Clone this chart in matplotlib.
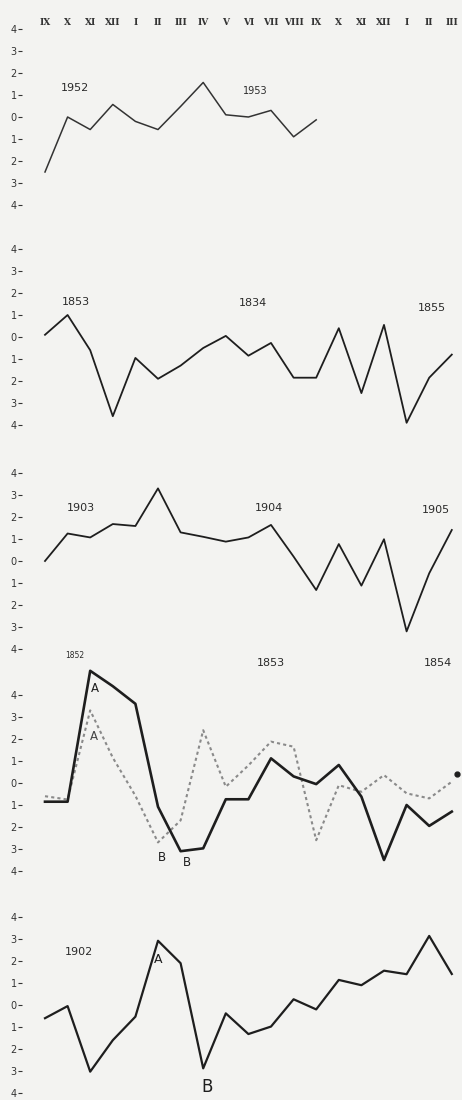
import matplotlib
matplotlib.use("Agg")
from matplotlib import pyplot as plt

# month labels along the top
months = ["IX", "X", "XI", "XII", "I", "II", "III", "IV", "V", "VI", "VII",
          "VIII", "IX", "X", "XI", "XII", "I", "II", "III"]
ytick_vals = [4, 3, 2, 1, 0, -1, -2, -3, -4]
ytick_text = ["4", "3", "2", "1", "0", "1", "2", "3", "4"]

# panel 1 : 1952-1953
p1 = [-2.5, 0.0, -0.57, 0.57, -0.2, -0.57, 0.48, 1.57, 0.1, 0.0, 0.3, -0.9, -0.13]
p1_years = ["1952", "1953"]

# panel 2 : 1853-1855
p2 = [0.1, 1.0, -0.6, -3.6, -0.95, -1.9, -1.3, -0.5, 0.05, -0.85, -0.27,
      -1.85, -1.85, 0.4, -2.55, 0.55, -3.9, -1.85, -0.8]
p2_years = ["1853", "1834", "1855"]

# panel 3 : 1903-1905
p3 = [0.0, 1.25, 1.07, 1.68, 1.59, 3.3, 1.3, 1.1, 0.88, 1.07, 1.64, 0.2,
      -1.32, 0.77, -1.12, 0.99, -3.2, -0.56, 1.41]
p3_years = ["1903", "1904", "1905"]

# panel 4 : 1852-1854, two curves
p4_solid = [-0.85, -0.85, 5.1, 4.4, 3.6, -1.08, -3.1, -2.97, -0.74, -0.74,
            1.12, 0.3, -0.05, 0.82, -0.62, -3.5, -1.0, -1.95, -1.3]
p4_dotted = [-0.6, -0.75, 3.3, 1.15, -0.58, -2.7, -1.7, 2.4, -0.17, 0.8,
             1.88, 1.65, -2.6, -0.1, -0.4, 0.36, -0.47, -0.7, 0.06]
p4_years = ["1852", "1853", "1854"]

# panel 5 : 1902
p5 = [-0.6, -0.05, -3.03, -1.6, -0.53, 2.92, 1.9, -2.88, -0.38, -1.32,
      -0.98, 0.26, -0.2, 1.14, 0.9, 1.56, 1.4, 3.14, 1.41]
p5_years = ["1902"]

W, H = 462, 1100
bg = "#f3f3f1"
ink = "#1e1e1e"
txt = "#2a2a2a"

fig = plt.figure(figsize=(W / 100, H / 100), dpi=100, facecolor=bg)

zero_px = [117, 337, 561, 783, 1005]
unit = 22.0
step = 22.6
left_px = 45 - step
width_px = 19.2 * step

axes = []
for z in zero_px:
    top = z - 4.5 * unit
    bottom = z + 4.5 * unit
    ax = fig.add_axes([left_px / W, 1 - bottom / H, width_px / W, (bottom - top) / H])
    ax.set_facecolor(bg)
    ax.set_xlim(-1, 18.2)
    ax.set_ylim(-4.5, 4.5)
    for s in ax.spines.values():
        s.set_visible(False)
    ax.set_xticks([])
    ax.set_yticks(ytick_vals)
    ax.set_yticklabels(ytick_text)
    ax.tick_params(axis="y", length=3, width=0.8, colors="#333333",
                   labelsize=7, pad=1)
    axes.append(ax)

ax1, ax2, ax3, ax4, ax5 = axes

for i, m in enumerate(months):
    ax1.text(i, 4.3, m, ha="center", va="center", fontsize=6.5,
             fontweight="bold", family="DejaVu Serif", color="#333333")

ax1.plot(range(len(p1)), p1, color="#333333", lw=1.1, clip_on=False)
ax1.text(1.33, 1.3, p1_years[0], ha="center", va="center", fontsize=8, color=txt)
ax1.text(9.3, 1.2, p1_years[1], ha="center", va="center", fontsize=7, color=txt)

ax2.plot(range(len(p2)), p2, color=ink, lw=1.3, clip_on=False)
for x, y, t in zip([1.37, 9.2, 17.1], [1.6, 1.55, 1.3], p2_years):
    ax2.text(x, y, t, ha="center", va="center", fontsize=8, color=txt)

ax3.plot(range(len(p3)), p3, color=ink, lw=1.3, clip_on=False)
for x, y, t in zip([1.6, 9.9, 17.3], [2.4, 2.4, 2.3], p3_years):
    ax3.text(x, y, t, ha="center", va="center", fontsize=8, color=txt)

ax4.plot(range(len(p4_dotted)), p4_dotted, color="#8a8a8a", lw=1.5,
         ls=(0, (1.5, 1.5)), clip_on=False)
ax4.plot(range(len(p4_solid)), p4_solid, color=ink, lw=1.9, clip_on=False)
ax4.plot([18.25], [0.4], marker="o", ms=3.5, color=ink, clip_on=False)
ax4.text(1.3, 5.8, p4_years[0], ha="center", va="center", fontsize=5.5, color=txt)
ax4.text(10.0, 5.45, p4_years[1], ha="center", va="center", fontsize=8, color=txt)
ax4.text(17.4, 5.45, p4_years[2], ha="center", va="center", fontsize=8, color=txt)
ax4.text(2.2, 4.3, "A", ha="center", va="center", fontsize=8.5, color=ink)
ax4.text(2.17, 2.1, "A", ha="center", va="center", fontsize=8.5, color="#444444")
ax4.text(5.16, -3.4, "B", ha="center", va="center", fontsize=8.5, color=ink)
ax4.text(6.27, -3.6, "B", ha="center", va="center", fontsize=8.5, color=ink)

ax5.plot(range(len(p5)), p5, color=ink, lw=1.6, clip_on=False)
ax5.text(1.5, 2.4, p5_years[0], ha="center", va="center", fontsize=8, color=txt)
ax5.text(5.0, 2.05, "A", ha="center", va="center", fontsize=9, color=ink)
ax5.text(7.17, -3.75, "B", ha="center", va="center", fontsize=12, color=ink)

fig.savefig("out.png", dpi=100, facecolor=bg)
